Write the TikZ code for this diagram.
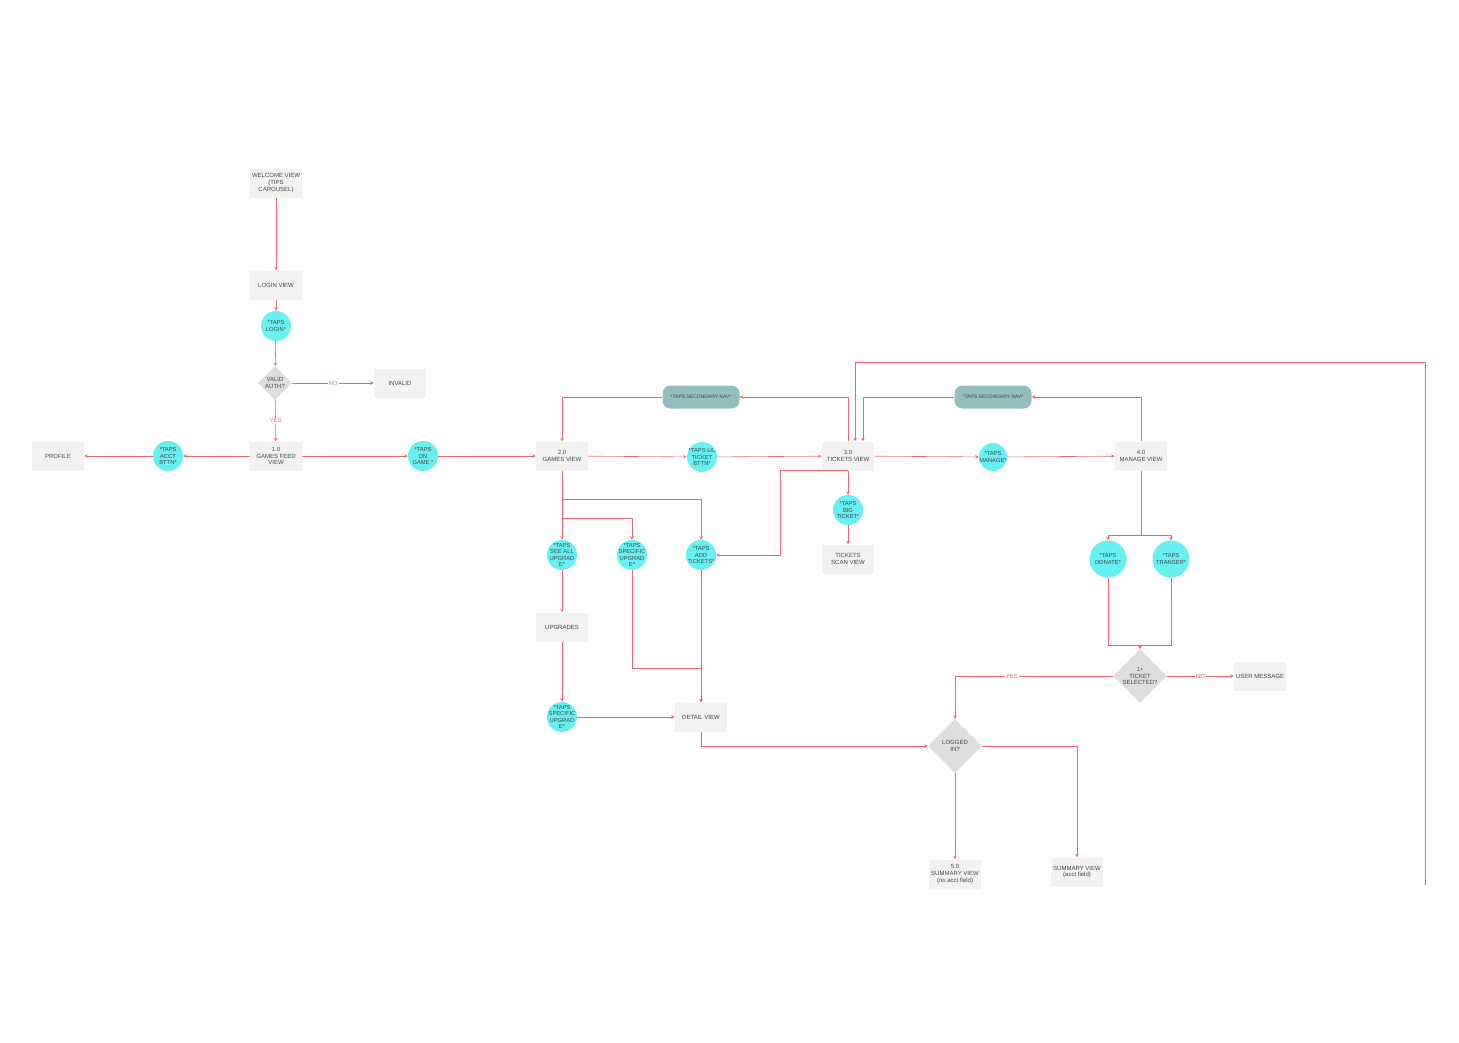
\documentclass[tikz,border=0pt]{standalone}
\usepackage{fontspec}
\setmainfont{Liberation Sans}
\usepackage{tikz}
\usetikzlibrary{shapes.geometric}
\definecolor{flowred}{RGB}{232,104,114}
\definecolor{tapcyan}{RGB}{102,240,242}
\definecolor{navteal}{RGB}{146,190,190}
\definecolor{viewgray}{RGB}{242,242,242}
\definecolor{askgray}{RGB}{222,222,222}
\definecolor{inkgray}{RGB}{70,70,70}
\tikzset{
    view/.style={
            rectangle, fill=viewgray, text=inkgray, align=center,
            minimum width=52pt, minimum height=29pt, inner sep=0pt,
            font=\fontsize{6}{6.8}\selectfont
        },
    tap/.style={
            circle, fill=tapcyan, text=inkgray, align=center,
            minimum size=30pt, inner sep=-6pt,
            font=\fontsize{5.8}{6.6}\selectfont
        },
    nav/.style={
            rectangle, rounded corners=8pt, fill=navteal, text=inkgray,
            minimum width=77pt, minimum height=23pt, inner sep=0pt,
            font=\fontsize{5}{6}\selectfont
        },
    ask/.style={
            diamond, fill=askgray, text=inkgray, align=center,
            inner sep=0pt, font=\fontsize{6}{6.8}\selectfont
        },
    flow/.style={flowred, line width=0.6pt, -stealth},
    answer/.style={fill=white, text=flowred, inner sep=1pt, font=\fontsize{6}{6}\selectfont}
}
\begin{document}
\begin{tikzpicture}[x=1pt, y=-1pt]
        \path[use as bounding box] (0,0) rectangle (1459,1042);

        % login column
        \node[view] (welcome) at (276,183) {WELCOME VIEW\\(TIPS\\CAROUSEL)};
        \node[view] (login) at (276,285) {LOGIN VIEW};
        \node[tap] (tapslogin) at (276,326) {*TAPS\\LOGIN*};
        \node[ask, minimum size=34pt] (validauth) at (275,383) {VALID\\AUTH?};
        \node[view] (invalid) at (400,383) {INVALID};
        \node[view] (gamesfeed) at (276,456) {1.0\\GAMES FEED\\VIEW};
        \node[tap] (tapsacct) at (168,456) {*TAPS\\ACCT\\BTTN*};
        \node[view] (profile) at (58,456) {PROFILE};
        \node[tap] (tapsgame) at (423,456) {*TAPS\\ON\\GAME *};

        % games and tickets
        \node[view] (gamesview) at (562,456) {2.0\\GAMES VIEW};
        \node[tap] (tapslil) at (702,457) {*TAPS LIL\\TICKET\\BTTN*};
        \node[view] (ticketsview) at (848,456) {3.0\\TICKETS VIEW};
        \node[nav] (navone) at (701,397) {*TAPS SECONDARY NAV*};
        \node[nav] (navtwo) at (993,397) {*TAPS SECONDARY NAV*};
        \node[tap, minimum size=28pt] (tapsmanage) at (993,457) {*TAPS\\MANAGE*};
        \node[view] (manageview) at (1141,456) {4.0\\MANAGE VIEW};
        \node[tap] (tapsbig) at (848,510) {*TAPS\\BIG\\TICKET*};
        \node[view] (scanview) at (848,559) {TICKETS\\SCAN VIEW};
        \node[tap] (tapsseeall) at (562,555) {*TAPS\\SEE ALL\\UPGRAD\\E*};
        \node[tap] (tapsspecific) at (632,555) {*TAPS\\SPECIFIC\\UPGRAD\\E*};
        \node[tap] (tapsadd) at (701,555) {*TAPS\\ADD\\TICKETS*};
        \node[view] (upgrades) at (562,627) {UPGRADES};
        \node[tap] (tapsspecifictwo) at (562,717) {*TAPS\\SPECIFIC\\UPGRAD\\E*};
        \node[view] (detailview) at (701,717) {DETAIL VIEW};

        % manage and summary
        \node[tap, minimum size=37pt] (tapsdonate) at (1108,559) {*TAPS\\DONATE*};
        \node[tap, minimum size=37pt] (tapstransfer) at (1171,559) {*TAPS\\TRANSER*};
        \node[ask, minimum size=54pt] (selected) at (1140,676) {1+\\TICKET\\SELECTED?};
        \node[view] (usermsg) at (1260,676) {USER MESSAGE};
        \node[ask, minimum size=54pt] (loggedin) at (955,746) {LOGGED\\IN?};
        \node[view] (summaryno) at (955,874) {5.0\\SUMMARY VIEW\\(no acct field)};
        \node[view] (summaryacct) at (1077,872) {SUMMARY VIEW\\(acct field)};
        \coordinate (loopend) at (1425,885);
        \coordinate (looptop) at (1425,362);

        \draw[flow] (welcome) -- (login);
        \draw[flow] (login) -- (tapslogin);
        \draw[flow] (tapslogin) -- (validauth);
        \draw[flow] (validauth) -- node[answer] {NO} (invalid);
        \draw[flow] (validauth) -- node[answer] {YES} (gamesfeed);
        \draw[flow] (gamesfeed) -- (tapsacct);
        \draw[flow] (tapsacct) -- (profile);
        \draw[flow] (gamesfeed) -- (tapsgame);
        \draw[flow] (tapsgame) -- (gamesview);

        \draw[flow] (gamesview) -- (tapslil);
        \draw[flow] (tapslil) -- (ticketsview);
        \draw[flow] (ticketsview) -- (tapsmanage);
        \draw[flow] (tapsmanage) -- (manageview);
        \draw[flow] (ticketsview.north) |- (navone.east);
        \draw[flow] (navone.west) -| (gamesview.north);
        \draw[flow] (manageview.north) |- (navtwo.east);
        \draw[flow] (navtwo.west) -| ([xshift=15pt]ticketsview.north);
        \draw[flow] (loopend) -- (looptop) -| ([xshift=7pt]ticketsview.north);
        \draw[flow] (ticketsview.south) -- (tapsbig);
        \draw[flow] (tapsbig) -- (scanview);
        \draw[flow] (ticketsview.south) -- ++(-68,0) |- (tapsadd.east);

        \draw[flow] (gamesview.south) -- (tapsseeall.north);
        \draw[flow] (gamesview.south) -- ++(0,48) -| (tapsspecific.north);
        \draw[flow] (gamesview.south) -- ++(0,29) -| (tapsadd.north);
        \draw[flow] (tapsseeall) -- (upgrades);
        \draw[flow] (upgrades) -- (tapsspecifictwo);
        \draw[flow] (tapsspecifictwo) -- (detailview);
        \draw[flow] (tapsspecific.south) -- ++(0,98) -| (detailview.north);
        \draw[flow] (tapsadd.south) -- (detailview.north);
        \draw[flow] (detailview.south) |- (loggedin.west);
        \draw[flow] (loggedin.south) -- (summaryno.north);
        \draw[flow] (loggedin.east) -| (summaryacct.north);

        \draw[flow] (manageview.south) -- ++(0,65) -| (tapsdonate.north);
        \draw[flow] (manageview.south) -- ++(0,65) -| (tapstransfer.north);
        \draw[flow] (tapsdonate.south) |- ([yshift=4pt]selected.north) -- (selected.north);
        \draw[flow] (tapstransfer.south) |- ([yshift=4pt]selected.north) -- (selected.north);
        \draw[flow] (selected) -- node[answer] {NO} (usermsg);
        \draw[flow] (selected.west) -| node[answer, pos=0.32] {YES} (loggedin.north);

    \end{tikzpicture}
\end{document}
